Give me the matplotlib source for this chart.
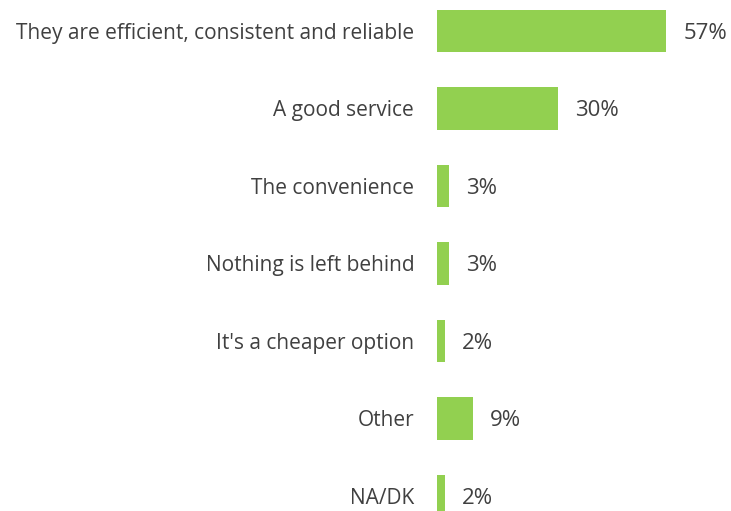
import matplotlib
matplotlib.use('Agg')
import matplotlib.pyplot as plt

reasons = [
    'They are efficient, consistent and reliable',
    'A good service',
    'The convenience',
    'Nothing is left behind',
    "It's a cheaper option",
    'Other',
    'NA/DK',
]
shares = [57, 30, 3, 3, 2, 9, 2]

plt.rcParams['font.family'] = ['Open Sans', 'DejaVu Sans']

fig = plt.figure(figsize=(7.31, 5.11), dpi=100)
ax = fig.add_axes([0, 0, 1, 1])

pos = list(range(len(reasons)))
ax.barh(pos, shares, height=0.55, color='#92D050')

for i, (name, v) in enumerate(zip(reasons, shares)):
    ax.text(-5.7, i, name, ha='right', va='center_baseline', fontsize=15, color='#404040')
    ax.text(v + 4.2, i, f'{v}%', ha='left', va='center_baseline', fontsize=16, color='#404040')

ax.set_xlim(-108.7, 73.1)
ax.set_ylim(6.194, -0.4)
ax.axis('off')

fig.savefig('out.png', dpi=100, facecolor='white')
